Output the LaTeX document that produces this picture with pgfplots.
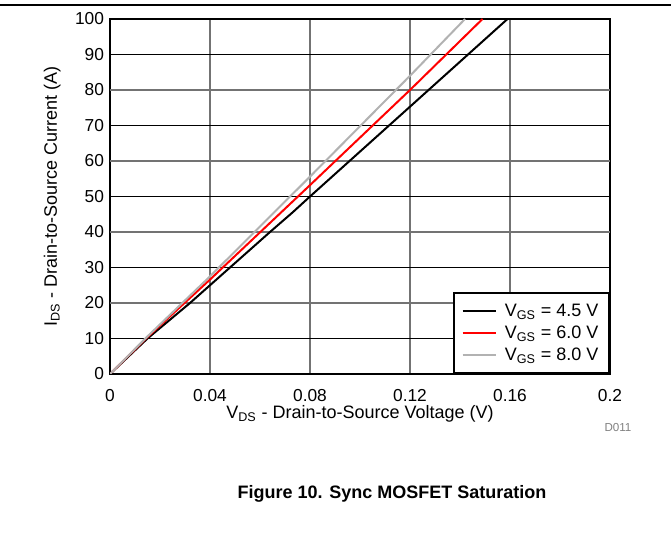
\documentclass[border=0pt]{standalone}
\usepackage{fontspec}
\setmainfont{Liberation Sans}
\usepackage{pgfplots}
\pgfplotsset{compat=1.18}
\begin{document}
\begin{tikzpicture}[x=1pt,y=1pt]
\useasboundingbox (0,0) rectangle (503.25,404.25);
\draw[line width=0.8pt] (0,400.5) -- (503.25,400.5);
\begin{axis}[
  at={(82.5pt,123.75pt)}, anchor=south west,
  scale only axis, width=375pt, height=266.25pt,
  xmin=0, xmax=0.2, ymin=0, ymax=100,
  font=\fontsize{13}{15}\selectfont,
  xtick={0,0.04,0.08,0.12,0.16,0.2},
  xticklabels={0,0.04,0.08,0.12,0.16,0.2},
  ytick={0,10,30,50,70,90,100},
  yticklabels={0,10,30,50,70,90,100},
  extra y ticks={20,40,60,80},
  extra y tick labels={20,40,60,80},
  extra y tick style={grid style={gray!90!black, line width=0.8pt}},
  major tick length=0pt,
  xticklabel style={yshift=-8pt},
  yticklabel style={xshift=-1pt},
  xmajorgrids, ymajorgrids,
  grid style={black, line width=0.6pt},
  x grid style={gray!90!black, line width=0.8pt},
  axis line style={line width=1.6pt},
  xlabel={V\textsubscript{DS} - Drain-to-Source Voltage (V)},
  ylabel={I\textsubscript{DS} - Drain-to-Source Current (A)},
  label style={font=\fontsize{13.5}{15}\selectfont},
  xlabel style={yshift=4pt},
  ylabel style={yshift=4pt},
  legend cell align=left,
  legend style={at={(1,0)}, anchor=south east, draw=black, line width=1.5pt,
    inner xsep=6pt, inner ysep=6pt,
    font=\fontsize{13.5}{15}\selectfont, row sep=1.5pt,
    /tikz/every odd column/.append style={column sep=4pt}},
  legend image code/.code={\draw[#1] (0pt,0pt) -- (25pt,0pt);},
]
\addplot[black, line width=1.5pt] coordinates {
  (0,0) (0.015,10) (0.032,20) (0.048,30) (0.064,40) (0.073,45.5)
  (0.08,50) (0.12,75.3) (0.159,100)
};
\addlegendentry{V\textsubscript{GS} = 4.5 V}
\addplot[red, line width=1.5pt] coordinates {
  (0,0) (0.015,10.4) (0.04,26.6) (0.08,53.2) (0.12,80) (0.149,100)
};
\addlegendentry{V\textsubscript{GS} = 6.0 V}
\addplot[black!30, line width=1.5pt] coordinates {
  (0,0) (0.015,10.6) (0.04,27.5) (0.08,55.6) (0.12,84) (0.142,100)
};
\addlegendentry{V\textsubscript{GS} = 8.0 V}
\end{axis}
\node[font=\fontsize{8.7}{10}\selectfont, text=gray] at (463.5,83.25) {D011};
\node[font=\bfseries\fontsize{13.5}{15}\selectfont] at (294,34) {Figure 10. Sync MOSFET Saturation};
\end{tikzpicture}
\end{document}
